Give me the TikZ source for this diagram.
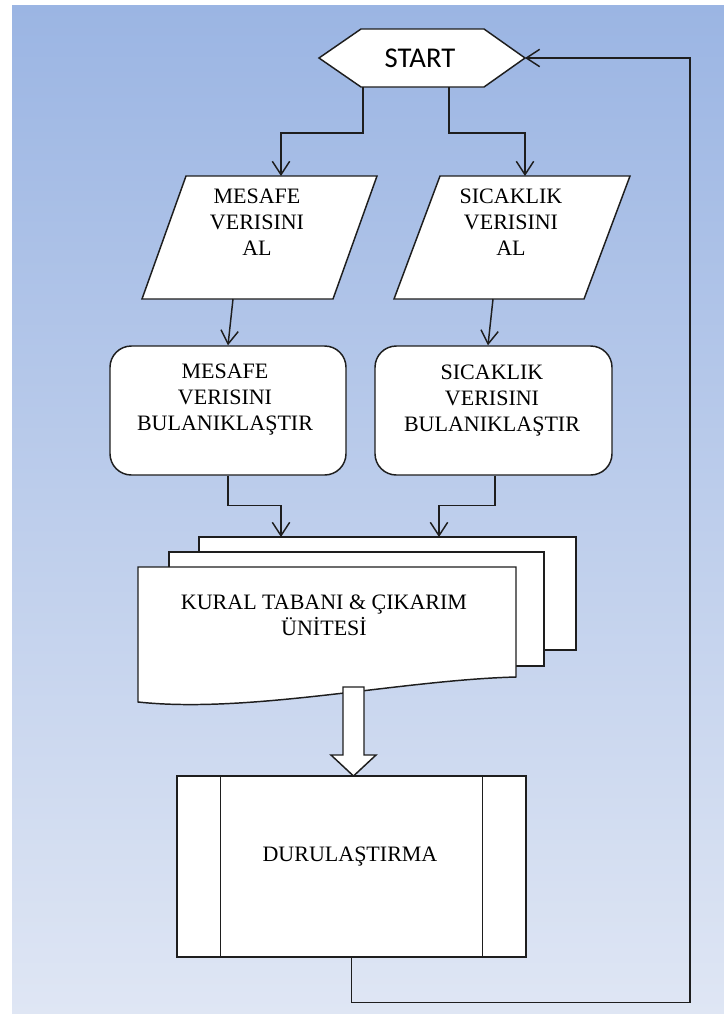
\documentclass[tikz,border=0pt]{standalone}
\usepackage{fontspec}
\setmainfont{Liberation Serif}
\newfontfamily\startfont{Carlito}
\usetikzlibrary{arrows.meta,calc}
\definecolor{bgtop}{HTML}{9BB5E3}
\definecolor{bgbot}{HTML}{DFE6F4}
\definecolor{linec}{HTML}{1E1E1E}
\begin{document}
\begin{tikzpicture}[x=0.75pt,y=-0.75pt,
  ln/.style={draw=linec, line width=1.1pt},
  arr/.style={ln, -{Straight Barb[length=10pt,width=13pt,line width=1.1pt]}},
  shp/.style={draw=linec, line width=1.1pt, fill=white, line join=miter},
  txt/.style={font=\fontsize{16.5}{19.5}\selectfont, align=center, inner sep=0pt},
]
\useasboundingbox (0,0) rectangle (724,1014);
\fill[white] (0,0) rectangle (724,1014);
\shade[top color=bgtop, bottom color=bgbot] (12,5) rectangle (724,1014);

% START hexagon
\draw[shp] (319,58) -- (361,29) -- (484,29) -- (525,58) -- (484,87) -- (361,87) -- cycle;
\node[font=\startfont\fontsize{21.5}{25}\selectfont, inner sep=0pt] (start) at (420,58) {START};
\coordinate (startE) at (525,58);
\coordinate (startSL) at (363,87);
\coordinate (startSR) at (449,87);

% input parallelograms
\draw[shp] (186,176) -- (377,176) -- (333,299) -- (142,299) -- cycle;
\node[txt] (in1) at (257,222) {MESAFE\\VERISINI\\AL};
\coordinate (in1top) at (281,176);
\coordinate (in1bot) at (233,299);

\draw[shp] (440,176) -- (630,176) -- (584,299) -- (394,299) -- cycle;
\node[txt] (in2) at (511,222) {SICAKLIK\\VERISINI\\AL};
\coordinate (in2top) at (525,176);
\coordinate (in2bot) at (493,299);

% fuzzification boxes
\node[shp, rounded corners=16pt, minimum width=177pt, minimum height=96.75pt, inner sep=0pt] (f1) at (228,410.5) {};
\node[txt] (f1t) at (225,400) {MESAFE\\VERISINI\\BULANIKLAŞTIR};
\node[shp, rounded corners=16pt, minimum width=177.75pt, minimum height=96.75pt, inner sep=0pt] (f2) at (493.5,410.5) {};
\node[txt] (f2t) at (492,401) {SICAKLIK\\VERISINI\\BULANIKLAŞTIR};

% multi-document
\draw[shp] (199,537) rectangle (576,650);
\draw[shp] (169,552) rectangle (544,666);
\draw[shp] (138,567) -- (516,567) -- (516,677) .. controls (400,680) and (250,714) .. (138,702) -- cycle;
\node[txt] (kb) at (324,615) {KURAL TABANI \& ÇIKARIM\\ÜNİTESİ};
\coordinate (docL) at (281,537);
\coordinate (docR) at (439,537);

% block arrow
\draw[shp] (343,687) -- (364,687) -- (364,755) -- (376,755) -- (353.5,776) -- (331,755) -- (343,755) -- cycle;

% defuzzification box
\node[shp, minimum width=261.75pt, minimum height=135.75pt, inner sep=0pt] (d) at (351.5,866.5) {};
\draw[ln] ($(d.north west)+(44,0)$) -- ($(d.south west)+(44,0)$);
\draw[ln] ($(d.north east)+(-44,0)$) -- ($(d.south east)+(-44,0)$);
\node[txt] (dt) at (350,857) {DURULAŞTIRMA};

% connectors
\draw[arr] (startSL) -- ++(0,46) -| (in1top);
\draw[arr] (startSR) -- ++(0,46) -| (in2top);
\draw[arr] (in1bot) -- (f1.north);
\draw[arr] (in2bot) -- (488,0 |- f2.north);
\draw[arr] (f1.south) -- ++(0,30) -| (docL);
\draw[arr] (495,0 |- f2.south) -- ++(0,30) -| (docR);
\draw[arr] (d.south) -- ++(0,45) -| (690,58) -- (startE);
\end{tikzpicture}
\end{document}
